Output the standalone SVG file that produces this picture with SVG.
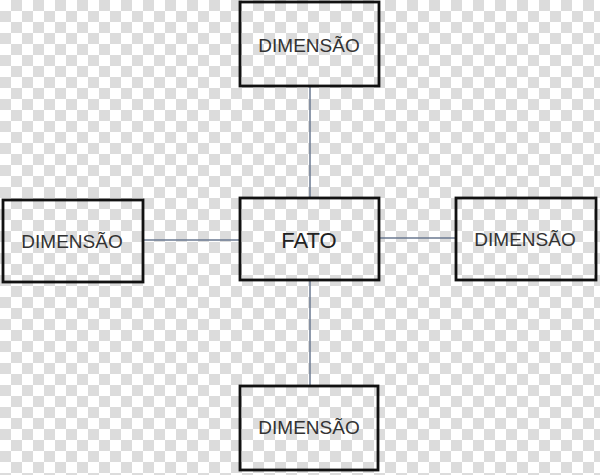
<svg xmlns="http://www.w3.org/2000/svg" width="600" height="475" viewBox="0 0 600 475">
<defs>
<pattern id="chk" width="22" height="22" patternUnits="userSpaceOnUse">
<rect width="22" height="22" fill="#ffffff"/>
<rect x="11" y="0" width="11" height="11" fill="#dcdcdc"/>
<rect x="0" y="11" width="11" height="11" fill="#dcdcdc"/>
</pattern>
</defs>
<style>
.box{fill:none;stroke:#111;stroke-width:2.8}
.lbl{font-family:"Liberation Sans",Arial,sans-serif;font-size:19px;fill:#333;text-anchor:middle}
.main{font-family:"Liberation Sans",Arial,sans-serif;font-size:22px;fill:#222;text-anchor:middle}
.con{stroke:#6a7890;stroke-width:1.5;fill:none}
</style>
<rect width="600" height="475" fill="url(#chk)"/>
<g id="connectors">
<line class="con" x1="310" y1="86" x2="310" y2="198"/>
<line class="con" x1="310" y1="280" x2="310" y2="386"/>
<line class="con" x1="143" y1="240" x2="240" y2="240"/>
<line class="con" x1="379" y1="238" x2="456" y2="238"/>
</g>
<g id="fato">
<rect class="box" x="240" y="198" width="139" height="82"/>
<text class="main" x="309" y="248">FATO</text>
</g>
<g id="dim-top">
<rect class="box" x="240" y="2" width="139" height="84"/>
<text class="lbl" x="309" y="52">DIMENSÃO</text>
</g>
<g id="dim-left">
<rect class="box" x="3" y="200" width="140" height="82"/>
<text class="lbl" x="72" y="248">DIMENSÃO</text>
</g>
<g id="dim-right">
<rect class="box" x="456" y="198" width="140" height="82"/>
<text class="lbl" x="525" y="246">DIMENSÃO</text>
</g>
<g id="dim-bottom">
<rect class="box" x="240" y="386" width="138" height="84"/>
<text class="lbl" x="309" y="434">DIMENSÃO</text>
</g>
</svg>
